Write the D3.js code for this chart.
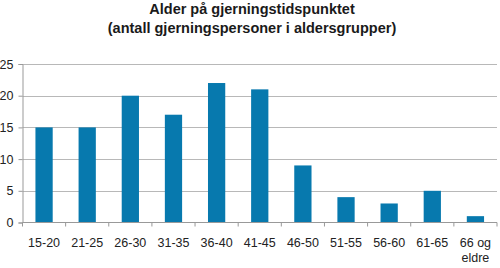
<!DOCTYPE html>
<html>
<head>
<meta charset="utf-8">
<script src="https://cdn.jsdelivr.net/npm/d3@7"></script>
<style>
  body { margin: 0; background: #fff; }
  svg { display: block; font-family: "Liberation Sans", Arial, sans-serif; }
</style>
</head>
<body>
<script>
// age groups and number of offenders
var categories = ["15-20", "21-25", "26-30", "31-35", "36-40", "41-45", "46-50", "51-55", "56-60", "61-65", "66 og eldre"];
var values = [15, 15, 20, 17, 22, 21, 9, 4, 3, 5, 1];
var yTicks = [0, 5, 10, 15, 20, 25];
var titleLines = ["Alder på gjerningstidspunktet", "(antall gjerningspersoner i aldersgrupper)"];

var width = 500, height = 268;
var plotLeft = 22.5, plotRight = 497, plotTop = 64, plotBottom = 222.5;

var svg = d3.select('body')
    .append('svg')
    .attr('width', width)
    .attr('height', height);

var x = d3.scaleBand()
    .domain(categories)
    .range([plotLeft, plotRight])
    .paddingInner(0.6)
    .paddingOuter(0.3);

var y = d3.scaleLinear()
    .domain([0, 25])
    .range([plotBottom, plotTop]);

// title
svg.selectAll('text.title')
    .data(titleLines)
    .enter()
    .append('text')
    .attr('class', 'title')
    .attr('x', 252)
    .attr('y', function (d, i) { return 14 + i * 19; })
    .attr('text-anchor', 'middle')
    .attr('font-size', 14.5)
    .attr('font-weight', 'bold')
    .attr('fill', '#1a1a1a')
    .text(function (d) { return d; });

// gridlines
svg.selectAll('line.grid')
    .data(yTicks.filter(function (d) { return d > 0; }))
    .enter()
    .append('line')
    .attr('class', 'grid')
    .attr('x1', plotLeft)
    .attr('x2', plotRight)
    .attr('y1', function (d) { return Math.round(y(d)) + 0.5; })
    .attr('y2', function (d) { return Math.round(y(d)) + 0.5; })
    .attr('stroke', '#b8b8b8')
    .attr('stroke-width', 1);

// bars
svg.selectAll('rect')
    .data(values)
    .enter()
    .append('rect')
    .attr('x', function (d, i) { return x(categories[i]); })
    .attr('y', function (d) { return y(d); })
    .attr('width', x.bandwidth())
    .attr('height', function (d) { return y(0) - y(d); })
    .attr('fill', '#0779ae');

// y axis
var yAxis = svg.append('g')
    .attr('transform', 'translate(' + plotLeft + ',0)')
    .call(d3.axisLeft(y).tickValues(yTicks).tickSize(4).tickPadding(5));
yAxis.select('.domain').attr('stroke', '#999');
yAxis.selectAll('line').attr('stroke', '#999');
yAxis.selectAll('text')
    .attr('font-size', 12.5)
    .attr('fill', '#222')
    .style('font-family', '"Liberation Sans", Arial, sans-serif');

// x axis with ticks between categories
var xAxis = svg.append('g')
    .attr('transform', 'translate(0,' + plotBottom + ')');
xAxis.append('line')
    .attr('x1', plotLeft).attr('x2', plotRight)
    .attr('y1', 0).attr('y2', 0)
    .attr('stroke', '#999');
var boundaries = d3.range(categories.length + 1).map(function (i) { return plotLeft + i * (plotRight - plotLeft) / categories.length; });
xAxis.selectAll('line.tick')
    .data(boundaries)
    .enter()
    .append('line')
    .attr('class', 'tick')
    .attr('x1', function (d) { return d; })
    .attr('x2', function (d) { return d; })
    .attr('y1', 0).attr('y2', 4)
    .attr('stroke', '#999');

var labels = xAxis.selectAll('text')
    .data(categories)
    .enter()
    .append('text')
    .attr('x', function (d) { return x(d) + x.bandwidth() / 2; })
    .attr('y', 24)
    .attr('text-anchor', 'middle')
    .attr('font-size', 12.5)
    .attr('fill', '#222');
labels.each(function (d) {
    var t = d3.select(this);
    var parts = d === "66 og eldre" ? ["66 og", "eldre"] : [d];
    parts.forEach(function (p, i) {
        t.append('tspan')
            .attr('x', x(d) + x.bandwidth() / 2)
            .attr('dy', i === 0 ? 0 : 15)
            .text(p);
    });
});
</script>
</body>
</html>
